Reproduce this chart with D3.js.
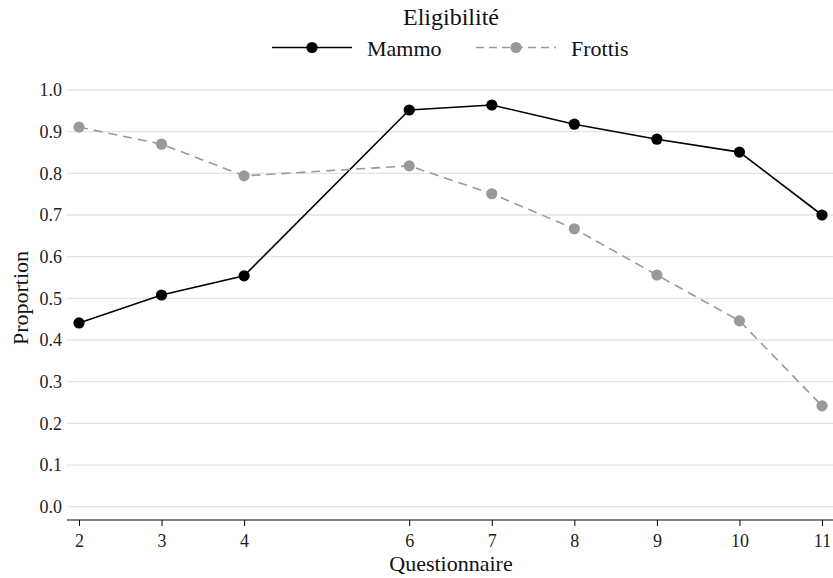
<!DOCTYPE html>
<html><head><meta charset="utf-8">
<script src="https://cdn.jsdelivr.net/npm/d3@7"></script>
<style>body{margin:0;background:#fff}</style>
</head><body>
<script>
const questionnaires = [2, 3, 4, 6, 7, 8, 9, 10, 11];
const mammo = [0.441, 0.508, 0.554, 0.952, 0.964, 0.918, 0.882, 0.851, 0.700];
const frottis = [0.911, 0.870, 0.794, 0.818, 0.751, 0.667, 0.556, 0.446, 0.242];
const yTicks = [0, 0.1, 0.2, 0.3, 0.4, 0.5, 0.6, 0.7, 0.8, 0.9, 1.0];
const seriesNames = ["Mammo", "Frottis"];
const legendTitle = "Eligibilité";

const W = 833, H = 578;
const font = "'Liberation Serif', 'Times New Roman', serif";
const svg = d3.select("body").append("svg").attr("width", W).attr("height", H)
  .style("font-family", font);

const x = d3.scaleLinear().domain([2, 11]).range([79, 822]);
const y = d3.scaleLinear().domain([0, 1]).range([506.7, 90]);

// gridlines
svg.append("g").selectAll("line").data(yTicks).join("line")
  .attr("x1", 67).attr("x2", W).attr("y1", d => y(d)).attr("y2", d => y(d))
  .attr("stroke", "#e3e3e3").attr("stroke-width", 1.3);

// y axis labels
const yAxis = d3.axisLeft(y).tickValues(yTicks).tickFormat(d3.format(".1f")).tickSize(0).tickPadding(0);
const yg = svg.append("g").attr("transform", "translate(62,0)").call(yAxis);
yg.select(".domain").remove();
yg.selectAll("text").attr("font-size", 18).attr("fill", "#222").attr("font-family", font);

// x axis
const xAxis = d3.axisBottom(x).tickValues(questionnaires).tickSize(6).tickPadding(8).tickFormat(d3.format("d"));
const xg = svg.append("g").attr("transform", "translate(0,520)").call(xAxis);
xg.select(".domain").attr("d", `M67,0H${W}`).attr("stroke", "#000").attr("stroke-width", 1.1);
xg.selectAll(".tick line").attr("stroke", "#000");
xg.selectAll("text").attr("font-size", 18).attr("fill", "#222").attr("font-family", font);

// axis titles
svg.append("text").attr("x", 451).attr("y", 571).attr("text-anchor", "middle")
  .attr("font-size", 22).attr("fill", "#111").text("Questionnaire");
svg.append("text").attr("transform", "translate(28,298) rotate(-90)").attr("text-anchor", "middle")
  .attr("font-size", 22).attr("fill", "#111").text("Proportion");

// series
const series = [
  {name: seriesNames[0], vals: mammo, color: "#000", dash: null},
  {name: seriesNames[1], vals: frottis, color: "#999", dash: "9,6"}
];
const line = d3.line().x(d => x(d[0])).y(d => y(d[1]));
series.forEach(s => {
  const pts = questionnaires.map((q, i) => [q, s.vals[i]]);
  svg.append("path").datum(pts).attr("d", line).attr("fill", "none")
    .attr("stroke", s.color).attr("stroke-width", 1.6)
    .attr("stroke-dasharray", s.dash);
  svg.append("g").selectAll("circle").data(pts).join("circle")
    .attr("cx", d => x(d[0])).attr("cy", d => y(d[1])).attr("r", 5.6)
    .attr("fill", s.color);
});

// legend
svg.append("text").attr("x", 451).attr("y", 25).attr("text-anchor", "middle")
  .attr("font-size", 24).attr("fill", "#111").text(legendTitle);
const legX = [272, 476];
series.forEach((s, i) => {
  const g = svg.append("g").attr("transform", `translate(${legX[i]},47.5)`);
  g.append("line").attr("x1", 0).attr("x2", 80).attr("y1", 0).attr("y2", 0)
    .attr("stroke", s.color).attr("stroke-width", 1.6).attr("stroke-dasharray", s.dash ? "8,5" : null);
  g.append("circle").attr("cx", 40).attr("cy", 0).attr("r", 5.6).attr("fill", s.color);
  g.append("text").attr("x", 95).attr("y", 8).attr("font-size", 22).attr("fill", "#111").text(s.name);
});
</script>
</body></html>
